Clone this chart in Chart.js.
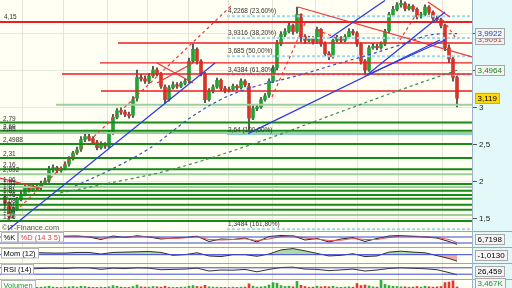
<!DOCTYPE html>
<html>
<head>
<meta charset="utf-8">
<script src="https://cdn.jsdelivr.net/npm/chart.js@4.4.1/dist/chart.umd.min.js"></script>
<style>
  html, body { margin: 0; padding: 0; background: #fff; }
</style>
</head>
<body>
<canvas id="chartCanvas" width="512" height="288"></canvas>
<script>
"use strict";

// daily candles, one per index
const opens = [1.78,1.70,1.53,1.62,1.75,1.83,1.92,1.87,1.93,1.91,
  1.97,2.01,2.15,2.18,2.14,2.17,2.23,2.30,2.38,2.43,
  2.56,2.60,2.57,2.52,2.45,2.50,2.47,2.66,2.86,2.95,
  2.93,2.90,2.89,3.12,3.40,3.38,3.35,3.42,3.50,3.45,
  3.27,3.10,3.26,3.30,3.28,3.32,3.36,3.62,3.78,3.62,
  3.44,3.10,3.22,3.27,3.36,3.25,3.22,3.24,3.28,3.26,
  3.35,3.28,2.85,2.98,3.00,3.10,3.16,3.35,3.53,3.85,
  3.98,4.02,4.10,4.02,4.25,3.95,3.90,3.92,3.88,4.05,
  3.85,3.72,3.68,3.90,3.93,3.90,3.95,4.02,4.00,3.85,
  3.62,3.50,3.80,3.82,3.80,3.85,4.03,4.25,4.32,4.38,
  4.40,4.33,4.36,4.32,4.22,4.25,4.35,4.28,4.20,4.18,
  4.10,3.80,3.65,3.40];
const highs = [1.80,1.72,1.65,1.78,1.86,1.95,1.94,1.96,1.95,2.00,
  2.04,2.20,2.22,2.20,2.19,2.26,2.33,2.40,2.46,2.60,
  2.64,2.63,2.60,2.55,2.53,2.52,2.68,2.90,2.98,2.99,
  2.96,2.93,3.14,3.50,3.44,3.42,3.45,3.55,3.53,3.47,
  3.30,3.29,3.34,3.33,3.34,3.38,3.66,3.85,3.80,3.64,
  3.47,3.25,3.30,3.39,3.38,3.28,3.27,3.31,3.30,3.38,
  3.37,3.32,3.02,3.03,3.13,3.18,3.38,3.56,3.90,4.02,
  4.06,4.14,4.12,4.35,4.26,3.98,3.96,3.95,4.08,4.06,
  3.88,3.75,3.93,3.97,3.95,3.98,4.06,4.05,4.02,3.87,
  3.64,3.83,3.86,3.85,3.88,4.05,4.28,4.36,4.41,4.45,
  4.42,4.39,4.38,4.34,4.28,4.38,4.37,4.30,4.23,4.20,
  4.12,3.84,3.68,3.42];
const lows = [1.66,1.48,1.50,1.60,1.73,1.80,1.85,1.86,1.87,1.88,
  1.95,1.98,2.12,2.11,2.12,2.15,2.20,2.28,2.36,2.40,
  2.53,2.54,2.49,2.42,2.43,2.44,2.45,2.63,2.84,2.90,
  2.87,2.85,2.86,3.08,3.35,3.32,3.32,3.40,3.42,3.25,
  3.05,3.08,3.24,3.25,3.26,3.30,3.33,3.60,3.58,3.42,
  3.06,3.08,3.19,3.25,3.22,3.19,3.20,3.22,3.23,3.24,
  3.27,2.64,2.83,2.95,2.98,3.08,3.13,3.33,3.50,3.83,
  3.95,4.00,3.98,4.00,3.88,3.86,3.88,3.85,3.86,3.82,
  3.69,3.64,3.66,3.88,3.87,3.88,3.93,3.97,3.82,3.58,
  3.43,3.48,3.78,3.77,3.78,3.83,4.00,4.22,4.30,4.35,
  4.30,4.31,4.29,4.19,4.20,4.23,4.25,4.17,4.15,4.07,
  3.76,3.60,3.35,3.00];
const closes = [1.70,1.52,1.62,1.75,1.82,1.92,1.88,1.93,1.90,1.97,
  2.00,2.15,2.18,2.14,2.17,2.22,2.30,2.38,2.42,2.56,
  2.60,2.57,2.52,2.45,2.50,2.47,2.65,2.86,2.95,2.93,
  2.90,2.88,3.10,3.40,3.38,3.35,3.42,3.50,3.45,3.28,
  3.10,3.26,3.30,3.28,3.32,3.35,3.62,3.78,3.62,3.45,
  3.10,3.22,3.27,3.36,3.25,3.22,3.24,3.28,3.26,3.35,
  3.30,2.85,2.98,3.00,3.10,3.15,3.35,3.52,3.85,3.98,
  4.02,4.10,4.02,4.25,3.95,3.90,3.92,3.88,4.05,3.85,
  3.72,3.68,3.90,3.93,3.90,3.95,4.02,4.00,3.85,3.62,
  3.50,3.80,3.82,3.80,3.85,4.02,4.25,4.32,4.38,4.40,
  4.33,4.36,4.32,4.22,4.25,4.35,4.28,4.20,4.18,4.10,
  3.80,3.65,3.40,3.119];
const volumes = [3,5,4,3,2,4,3,2,2,3, 4,6,3,2,2,3,4,5,3,6,
  5,3,2,2,3,2,4,8,6,3, 2,2,5,10,4,3,3,5,4,3,
  6,3,2,2,3,3,6,8,5,4, 9,4,3,3,2,2,2,3,2,3,
  3,14,6,3,4,5,10,18,16,8, 5,6,4,22,9,5,3,3,6,4,
  5,4,6,3,2,3,4,3,15,8, 10,7,4,3,28,12,8,6,5,4,
  4,3,3,5,3,6,4,3,4,5, 18,20,24,3.467];

// month boundaries (candle index) and price ticks
const monthStarts = [4.25, 14.5, 25.5, 35.5, 45.75, 55.75, 66.75, 77.5, 88, 98.25, 109.25];
const priceTicks = [1.5, 2, 2.5, 3, 3.5, 4];
const priceTickLabels = ['1,5', '2', '2,5', '3', '', ''];

// horizontal levels
const redLevels = [4.15, 3.865, 3.595, 3.446, 3.216];
const redFrom = [-1.25, 28.25, 23.75, 14.25, 24];
const greenLevels = [2.79, 2.68, 2.65, 2.4988, 2.31, 2.16, 2.092, 1.96, 1.92, 1.87, 1.81, 1.76, 1.68, 1.61, 1.54, 1.46];
const greenLight = [false, false, true, false, false, false, true, false, true, false, false, false, false, false, true, false];
const greenLabels = ['2,79', '2,69', '2,65', '2,4988', '2,31', '2,16', '2,092', '1,96', '1,92', '1,87', '1,81', '1,76', '1,68', '1,61', '1,54', '1,46'];
const fibLevels = [4.2268, 3.9316, 3.685, 3.4384, 1.3484];
const fibLabels = ['4,2268 (23,60%)', '3,9316 (38,20%)', '3,685 (50,00%)', '3,4384 (61,80%)', '1,3484 (161,80%)'];
const fibBase = 2.64;
const fibBaseLabel = '2,64 (100,00%)';
const fibFrom = 55.5;
const supportLevel = 3.03;
const supportFrom = 12.75;

// trend lines: [x1, price1, x2, price2]
const blueTrends = [[0.75, 1.338, 52.5, 3.595], [60.75, 2.64, 108.75, 3.905], [90.5, 3.433, 110, 4.284], [90.5, 3.433, 110, 3.905], [81.25, 3.932, 95, 4.44]];
const redTrends = [[73.25, 4.351, 116.75, 3.676], [105.75, 4.419, 111.25, 4.216], [38, 3.595, 47, 3.324], [38, 3.324, 47, 3.595], [-1.25, 2.04, 8.75, 1.905]];
const redDashed = [[3.75, 1.649, 56.75, 4.378], [66.75, 3.135, 75, 4.135], [78, 4.041, 83, 3.932], [98.75, 3.905, 103, 4.27], [109.5, 4.176, 113, 3.9091]];

// moving averages
const greenMAx = [13.75, 23.75, 41.25, 61.25, 83.75, 98.75, 113];
const greenMAp = [1.838, 1.946, 2.149, 2.487, 2.932, 3.230, 3.4964];
const blueMAx = [17.5, 26.25, 36.25, 46.25, 53.75, 61.25, 73.75, 83.75, 90, 98.75, 106.25, 113];
const blueMAp = [1.932, 2.149, 2.446, 2.851, 3.095, 3.257, 3.432, 3.595, 3.689, 3.838, 3.973, 3.9922];

// indicators
const indX = [0,3,6,9,12,15,18,21,24,27,30,33,36,39,42,45,48,51,54,57,60,63,66,69,72,75,78,81,84,87,90,93,96,99,102,105,108,111,113];
const stochK = [60,85,70,80,85,88,90,80,55,90, 75,92,80,60,70,75,88,35,60,55, 70,30,85,95,92,50,65,30,60,75, 35,65,90,95,85,80,70,35,6.7198];
const stochD = [55,75,78,76,82,86,88,85,68,72, 80,85,84,70,65,72,82,55,50,55, 62,45,60,85,92,70,60,45,48,65, 55,55,75,90,90,83,75,55,25];
const momentum = [0.05,0.1,0.3,0.3,0.25,0.25,0.35,0.35,0.1,0.35, 0.4,0.45,0.5,0.35,-0.1,0,0.3,-0.2,-0.3,0, 0,-0.25,0.1,0.75,0.95,0.6,0.2,-0.2,-0.1,0.15, -0.3,-0.2,0.4,0.55,0.4,0.3,-0.15,-0.6,-1.013];
const rsi = [50,65,62,66,68,66,70,70,60,68, 65,70,68,58,60,62,68,50,56,55, 60,45,60,72,74,62,60,52,57,62, 50,56,66,70,67,64,58,40,26.459];
const stochBands = [20, 80];
const rsiBands = [30, 70];

const rightTags = [
  { value: 3.9091, text: '3,9091', color: '#e02020', bg: '#f2f2f2' },
  { value: 3.9922, text: '3,9922', color: '#2040c0', bg: '#f4f4f4' },
  { value: 3.4964, text: '3,4964', color: '#208020', bg: '#f4f4f4' },
  { value: 3.119, text: '3,119', color: '#000', bg: '#ffd60a' }
];
const panelTags = { yK: '6,7198', yM: '-1,0130', yR: '26,459', yV: '3,467K' };

const XMIN = -1.25, XMAX = 116.75;
const FONT = '"Liberation Sans", Arial, sans-serif';

const datasets = [];
function line(points, color, width, dash, extra) {
  datasets.push(Object.assign({
    type: 'line', data: points, borderColor: color, borderWidth: width,
    borderDash: dash || [], pointRadius: 0, yAxisID: 'y', order: 1, tension: 0
  }, extra || {}));
}
const pts = (xs, ys) => xs.map((x, i) => ({ x: x, y: ys[i] }));
const idx = closes.map((_, i) => i);

// levels
redLevels.forEach((p, i) => line([{ x: redFrom[i], y: p }, { x: XMAX, y: p }], '#ee1c24', i === 0 ? 2 : 1.3, null, { order: 2 }));
greenLevels.forEach((p, i) => line([{ x: XMIN, y: p }, { x: XMAX, y: p }], greenLight[i] ? '#9ccf9c' : '#178a17', 2, null, { order: 2 }));
line([{ x: supportFrom, y: supportLevel }, { x: XMAX, y: supportLevel }], '#9ccf9c', 2, null, { order: 2 });
fibLevels.forEach(p => line([{ x: fibFrom, y: p }, { x: XMAX, y: p }], '#9fd6f2', 2, [3, 2], { order: 2 }));
line([{ x: fibFrom, y: fibBase }, { x: XMAX, y: fibBase }], '#1aa3a3', 1.5, null, { order: 2 });

// trends
blueTrends.forEach(t => line([{ x: t[0], y: t[1] }, { x: t[2], y: t[3] }], '#2a3ae6', 1.2));
redTrends.forEach(t => line([{ x: t[0], y: t[1] }, { x: t[2], y: t[3] }], '#f03535', 1.2));
redDashed.forEach(t => line([{ x: t[0], y: t[1] }, { x: t[2], y: t[3] }], '#f03535', 1.2, [3, 3]));
line(pts(greenMAx, greenMAp), '#3d8a5c', 1.2, [3, 3], { tension: 0.35 });
line(pts(blueMAx, blueMAp), '#3452c4', 1.2, [3, 3], { tension: 0.35 });

// candles
datasets.push({
  type: 'bar', data: idx.map(i => ({ x: i, y: [lows[i], highs[i]] })),
  backgroundColor: '#3a3a3a', barThickness: 1, grouped: false, order: 6, yAxisID: 'y'
});
datasets.push({
  type: 'bar', data: idx.map(i => ({ x: i, y: [opens[i], closes[i]] })),
  backgroundColor: idx.map(i => closes[i] >= opens[i] ? '#22a334' : '#d8352a'),
  barThickness: 3, minBarLength: 1, grouped: false, order: 5, yAxisID: 'y'
});

// stochastic
stochBands.forEach(b => line([{ x: XMIN, y: b }, { x: XMAX, y: b }], '#3a46d8', 1, null, { yAxisID: 'yK' }));
line(pts(indX, stochD), '#e25a5a', 1, null, { yAxisID: 'yK' });
line(pts(indX, stochK), '#222', 1, null, { yAxisID: 'yK' });

// momentum
line([{ x: XMIN, y: 0 }, { x: XMAX, y: 0 }], '#3a46d8', 1, null, { yAxisID: 'yM' });
line(pts(indX, momentum), '#333', 1, null, {
  yAxisID: 'yM', fill: { target: 'origin', above: 'rgba(70,170,70,0.45)', below: 'rgba(232,96,96,0.55)' }
});

// rsi
rsiBands.forEach(b => line([{ x: XMIN, y: b }, { x: XMAX, y: b }], '#3a46d8', 1, null, { yAxisID: 'yR' }));
line(pts(indX, rsi), '#333', 1, null, { yAxisID: 'yR' });

// volume
datasets.push({
  type: 'bar', data: idx.map(i => ({ x: i, y: volumes[i] })),
  backgroundColor: idx.map(i => closes[i] >= opens[i] ? '#2fae3f' : '#e03a30'),
  barThickness: 2, grouped: false, order: 4, yAxisID: 'yV'
});

const fit40 = s => { s.width = 40; };
const subAxis = (weight, min, max) => ({
  position: 'right', stack: 'panels', stackWeight: weight, min: min, max: max,
  afterFit: fit40, grid: { display: false }, ticks: { display: false }, border: { display: false }
});

function box(ctx, x, yc, text, color, bg, border, size) {
  ctx.font = (size || 8) + 'px ' + FONT;
  const w = Math.ceil(ctx.measureText(text).width) + 5;
  const h = (size || 8) + 3;
  if (bg) { ctx.fillStyle = bg; ctx.fillRect(x, yc - h / 2, w, h); }
  if (border) { ctx.strokeStyle = border; ctx.lineWidth = 1; ctx.strokeRect(x + 0.5, Math.round(yc - h / 2) + 0.5, w - 1, h - 1); }
  ctx.fillStyle = color;
  ctx.textBaseline = 'middle';
  ctx.fillText(text, x + 2.5, yc + 0.5);
  return w;
}

const decor = {
  id: 'decor',
  beforeDraw(chart) {
    const { ctx, chartArea: a } = chart;
    const xs = chart.scales.x;
    ctx.save();
    ctx.fillStyle = '#fffff3';
    ctx.fillRect(a.left, a.top, a.right - a.left, a.bottom - a.top);
    ctx.fillStyle = '#e2f8f9';
    ctx.fillRect(a.right, 0, chart.width - a.right, chart.height);
    ctx.strokeStyle = '#e4e4d8';
    ctx.lineWidth = 1;
    monthStarts.forEach(v => {
      const px = Math.round(xs.getPixelForValue(v)) + 0.5;
      ctx.beginPath(); ctx.moveTo(px, a.top); ctx.lineTo(px, a.bottom); ctx.stroke();
    });
    ctx.restore();
  },
  afterDraw(chart) {
    const { ctx, chartArea: a } = chart;
    const y = chart.scales.y, xs = chart.scales.x;
    ctx.save();

    // panel separators
    ctx.strokeStyle = '#a4a4a4';
    ctx.lineWidth = 1;
    ['yK', 'yM', 'yR', 'yV'].forEach(id => {
      const t = Math.round(chart.scales[id].top) + 0.5;
      ctx.beginPath(); ctx.moveTo(0, t); ctx.lineTo(chart.width, t); ctx.stroke();
    });
    ctx.strokeStyle = '#9fb3c6';
    ctx.beginPath(); ctx.moveTo(a.right + 0.5, 0); ctx.lineTo(a.right + 0.5, chart.height); ctx.stroke();

    // price axis ticks and labels
    ctx.font = '8px ' + FONT;
    ctx.textBaseline = 'middle';
    ctx.strokeStyle = '#555';
    priceTicks.forEach((v, i) => {
      const py = Math.round(y.getPixelForValue(v)) + 0.5;
      ctx.beginPath(); ctx.moveTo(a.right + 1, py); ctx.lineTo(a.right + 5, py); ctx.stroke();
      if (priceTickLabels[i]) { ctx.fillStyle = '#222'; ctx.fillText(priceTickLabels[i], a.right + 7, py); }
    });

    // level labels
    ctx.fillStyle = '#333';
    ctx.textBaseline = 'alphabetic';
    ctx.font = '6.5px ' + FONT;
    const fx = xs.getPixelForValue(fibFrom) + 1;
    fibLevels.forEach((p, i) => ctx.fillText(fibLabels[i], fx, y.getPixelForValue(p) - 3));
    ctx.fillText(fibBaseLabel, fx, y.getPixelForValue(fibBase) - 2);
    greenLabels.forEach((t, i) => ctx.fillText(t, 3, y.getPixelForValue(greenLevels[i]) - 2));
    ctx.fillText('4,15', 4, y.getPixelForValue(redLevels[0]) - 3);

    // watermark
    ctx.font = '7.5px ' + FONT;
    ctx.fillStyle = '#555';
    ctx.fillText('\u00a9IT-Finance.com', 2, y.bottom - 1);

    // right value tags
    rightTags.forEach(t => box(ctx, a.right + 3, y.getPixelForValue(t.value), t.text, t.color, t.bg, '#a8a8a8', 8));

    // indicator panels
    const names = {
      yK: [['%K', '#000'], ['%D (14 3 5)', '#e04040']],
      yM: [['Mom (12)', '#000']],
      yR: [['RSI (14)', '#000']],
      yV: [['Volumen', '#1f9a2f']]
    };
    Object.keys(names).forEach(id => {
      const s = chart.scales[id];
      const mid = (s.top + s.bottom) / 2;
      let x = 1;
      names[id].forEach(n => { x += box(ctx, x, s.top + 6, n[0], n[1], '#ffffff', '#b5b5b5', 7.5); });
      box(ctx, a.right + 3, mid, panelTags[id], id === 'yV' ? '#1f9a2f' : '#000', '#f4f4f4', '#a8a8a8', 8);
    });
    ctx.restore();
  }
};

Chart.defaults.font.family = FONT;

new Chart(document.getElementById('chartCanvas'), {
  type: 'bar',
  data: { datasets: datasets },
  options: {
    responsive: false,
    animation: false,
    layout: { padding: 0, autoPadding: false },
    plugins: { legend: { display: false }, tooltip: { enabled: false } },
    scales: {
      x: { type: 'linear', min: XMIN, max: XMAX, offset: false, display: false },
      y: {
        position: 'right', stack: 'panels', stackWeight: 231, min: 1.3244, max: 4.446,
        afterFit: fit40,
        afterBuildTicks: s => { s.ticks = priceTicks.map(v => ({ value: v })); },
        grid: { color: '#e8e8dc', drawTicks: false },
        border: { display: false },
        ticks: { display: false }
      },
      yK: subAxis(16, -20, 140),
      yM: subAxis(16, -1.3, 1.2),
      yR: subAxis(16, 0, 100),
      yV: subAxis(9, 0, 30)
    }
  },
  plugins: [decor]
});
</script>
</body>
</html>
